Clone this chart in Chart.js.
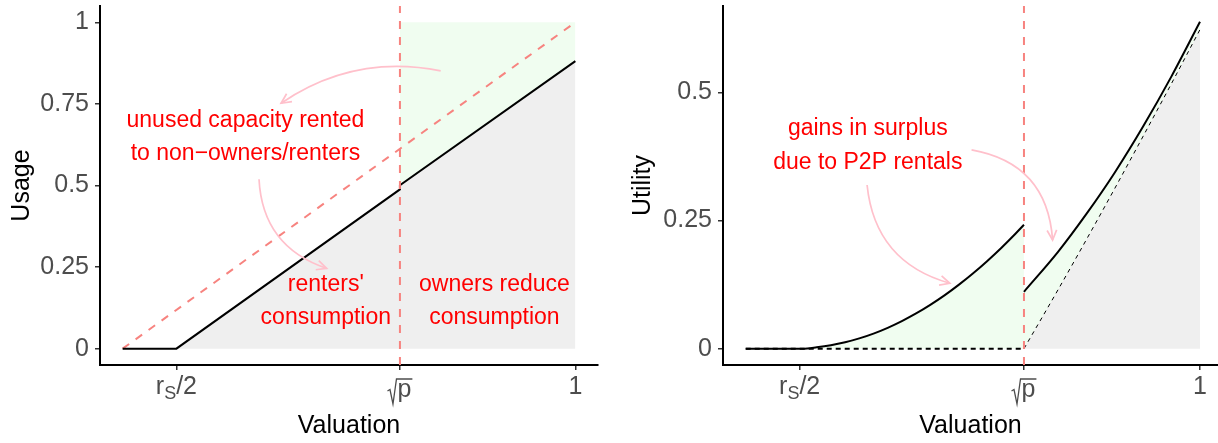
<!DOCTYPE html>
<html>
<head>
<meta charset="utf-8">
<script src="https://cdn.jsdelivr.net/npm/chart.js@4.4.1/dist/chart.umd.min.js"></script>
<style>
    html, body { margin: 0; padding: 0; background: #fff; }
    #panel { position: relative; width: 1218px; height: 443px; overflow: hidden; }
    canvas { position: absolute; top: 0; }
    #graficoUso { left: 0; }
    #graficoUtilidad { left: 612px; }
</style>
</head>
<body>
<div id="panel">
    <canvas id="graficoUso" width="612" height="443"></canvas>
    <canvas id="graficoUtilidad" width="606" height="443"></canvas>
</div>
<script>
// ---- Datos ----
const RS_MEDIO = 0.295;   // r_S/2
const RAIZ_P = 0.69;      // sqrt(p)

const ticksValoracion = [RS_MEDIO, RAIZ_P, 1];
const ticksUso = [0, 0.25, 0.5, 0.75, 1];
const ticksUtilidad = [0, 0.25, 0.5];

// panel izquierdo: uso segun valoracion
const usoX = [0.2, 0.295, 0.69, 0.69, 1];
const usoY = [0, 0, 0.488, 0.501, 0.881];
const capacidadX = [0.2, 1];
const capacidadY = [0, 1];

// panel derecho: utilidad segun valoracion
const utilIzqX = [0.2, 0.25, 0.3, 0.325, 0.35, 0.375, 0.4, 0.425, 0.45, 0.475, 0.5,
                  0.525, 0.55, 0.575, 0.6, 0.625, 0.65, 0.675, 0.69];
const utilIzqY = [0, 0, 0, 0.0026, 0.0066, 0.0124, 0.020, 0.0294, 0.0407, 0.0538, 0.0687,
                  0.0855, 0.104, 0.1245, 0.1467, 0.1708, 0.1966, 0.2243, 0.2418];
const utilDerX = [0.69, 0.75, 0.8, 0.85, 0.9, 0.95, 1];
const utilDerY = [0.111, 0.189, 0.263, 0.344, 0.434, 0.532, 0.638];
const sinP2PY = [0, 0.115, 0.213, 0.313, 0.415, 0.518, 0.623];
const baseX = [0.2, 0.69];
const baseY = [0, 0];

// ---- Estilos ----
const FUENTE = '"Liberation Sans", Arial, Helvetica, sans-serif';
const VERDE = '#F0FDF0';
const GRIS = '#EFEFEF';
const ROJO_LINEA = '#F7837F';
const ROSA = '#FFC0CB';
const TEXTO_EJE = '#4D4D4D';

Chart.defaults.font.family = FUENTE;

// textos y flechas anotadas (en coordenadas de datos)
const notasUso = [
    ['unused capacity rented', 0.417, 0.698],
    ['to non\u2212owners/renters', 0.417, 0.598],
    ["renters'", 0.559, 0.195],
    ['consumption', 0.559, 0.094],
    ['owners reduce', 0.857, 0.195],
    ['consumption', 0.857, 0.094]
];
const flechasUso = [
    { x0: 0.762, y0: 0.851, x1: 0.480, y1: 0.752, curva: 0.21 },
    { x0: 0.441, y0: 0.519, x1: 0.5605, y1: 0.246, curva: 0.34 }
];
const notasUtilidad = [
    ['gains in surplus', 0.415, 0.43],
    ['due to P2P rentals', 0.415, 0.3625]
];
const flechasUtilidad = [
    { x0: 0.4137, y0: 0.3195, x1: 0.5595, y1: 0.1277, curva: 0.34 },
    { x0: 0.5977, y0: 0.388, x1: 0.7404, y1: 0.212, curva: -0.39 }
];

function puntos(xs, ys) {
    return xs.map((x, i) => ({ x: x, y: ys[i] }));
}

function ejeX(max) {
    return {
        type: 'linear',
        min: 0.16,
        max: max,
        afterBuildTicks: s => { s.ticks = ticksValoracion.map(v => ({ value: v })); },
        afterFit: s => {
            s.height = 78;
            s.paddingLeft = 0; s.paddingRight = 0; s.paddingTop = 0; s.paddingBottom = 0;
        },
        grid: { display: true, drawOnChartArea: false, drawTicks: true, tickLength: 5, color: '#333', lineWidth: 1.5 },
        border: { display: true, color: '#000', width: 2 },
        ticks: { display: false },
        title: { display: true, text: 'Valuation', color: '#000', font: { size: 25 }, padding: { top: 0, bottom: 2 } }
    };
}

function ejeY(min, max, valores, titulo, ancho, margenTitulo) {
    return {
        type: 'linear',
        min: min,
        max: max,
        afterBuildTicks: s => { s.ticks = valores.map(v => ({ value: v })); },
        afterFit: s => {
            s.width = ancho;
            s.paddingLeft = 0; s.paddingRight = 0; s.paddingTop = 0; s.paddingBottom = 0;
        },
        grid: { display: true, drawOnChartArea: false, drawTicks: true, tickLength: 5, color: '#333', lineWidth: 1.5 },
        border: { display: true, color: '#000', width: 2 },
        ticks: { color: TEXTO_EJE, font: { size: 25 }, padding: 6, callback: v => String(v) },
        title: { display: true, text: titulo, color: '#000', font: { size: 25 }, padding: { top: margenTitulo, bottom: 0 } }
    };
}

// etiquetas del eje x con subindice y raiz
function etiquetasValoracion(chart) {
    const ctx = chart.ctx;
    const xs = chart.scales.x;
    const base = 394;
    ctx.save();
    ctx.fillStyle = TEXTO_EJE;
    ctx.strokeStyle = TEXTO_EJE;
    ctx.textBaseline = 'alphabetic';
    ctx.textAlign = 'left';

    // r_S/2
    let px = xs.getPixelForValue(RS_MEDIO);
    ctx.font = '25px ' + FUENTE;
    const wr = ctx.measureText('r').width;
    const wb = ctx.measureText('/2').width;
    ctx.font = '18px ' + FUENTE;
    const ws = ctx.measureText('S').width;
    let x0 = px - (wr + ws + wb) / 2;
    ctx.font = '25px ' + FUENTE;
    ctx.fillText('r', x0, base);
    ctx.font = '18px ' + FUENTE;
    ctx.fillText('S', x0 + wr, base + 5);
    ctx.font = '25px ' + FUENTE;
    ctx.fillText('/2', x0 + wr + ws, base);

    // raiz de p
    px = xs.getPixelForValue(RAIZ_P);
    const wp = ctx.measureText('p').width;
    const wRad = 10;
    x0 = px - (wRad + wp + 1) / 2;
    const bp = base + 3;
    ctx.fillText('p', x0 + wRad, bp);
    ctx.lineWidth = 1.3;
    ctx.beginPath();
    ctx.moveTo(x0, bp - 6);
    ctx.lineTo(x0 + 2.5, bp - 7.5);
    ctx.lineTo(x0 + 5.5, bp + 7);
    ctx.lineTo(x0 + wRad - 1, bp - 18);
    ctx.lineTo(x0 + wRad + wp + 1, bp - 18);
    ctx.stroke();

    // 1
    ctx.textAlign = 'center';
    ctx.fillText('1', xs.getPixelForValue(1), base);
    ctx.restore();
}

function anotaciones(chart, notas, flechas) {
    const ctx = chart.ctx;
    const xs = chart.scales.x, ys = chart.scales.y;
    ctx.save();
    // flechas curvas
    ctx.strokeStyle = ROSA;
    ctx.lineWidth = 1.7;
    flechas.forEach(f => {
        const ax = xs.getPixelForValue(f.x0), ay = ys.getPixelForValue(f.y0);
        const bx = xs.getPixelForValue(f.x1), by = ys.getPixelForValue(f.y1);
        const dx = bx - ax, dy = by - ay;
        const cx = (ax + bx) / 2 - f.curva * dy;
        const cy = (ay + by) / 2 + f.curva * dx;
        ctx.beginPath();
        ctx.moveTo(ax, ay);
        ctx.quadraticCurveTo(cx, cy, bx, by);
        ctx.stroke();
        const ang = Math.atan2(by - cy, bx - cx);
        const largo = 11;
        ctx.beginPath();
        ctx.moveTo(bx - largo * Math.cos(ang - 0.45), by - largo * Math.sin(ang - 0.45));
        ctx.lineTo(bx, by);
        ctx.lineTo(bx - largo * Math.cos(ang + 0.45), by - largo * Math.sin(ang + 0.45));
        ctx.stroke();
    });
    // textos
    ctx.fillStyle = '#FF0000';
    ctx.font = '23px ' + FUENTE;
    ctx.textAlign = 'center';
    ctx.textBaseline = 'middle';
    notas.forEach(n => {
        ctx.fillText(n[0], xs.getPixelForValue(n[1]), ys.getPixelForValue(n[2]));
    });
    ctx.restore();
}

function opcionesBase(padding, escalas) {
    return {
        responsive: false,
        animation: false,
        devicePixelRatio: 1,
        layout: { padding: padding, autoPadding: false },
        plugins: {
            legend: { display: false },
            tooltip: { enabled: false },
            filler: { drawTime: 'beforeDatasetsDraw' }   // rellenos siempre debajo de las lineas
        },
        elements: { point: { radius: 0 } },
        scales: escalas
    };
}

function pluginDibujo(notas, flechas) {
    return {
        id: 'extras',
        afterDraw: chart => {
            etiquetasValoracion(chart);
            anotaciones(chart, notas, flechas);
        }
    };
}

// ---- Grafico 1: Uso ----
new Chart(document.getElementById('graficoUso'), {
    type: 'line',
    data: {
        datasets: [
            {   // linea vertical en sqrt(p)
                data: puntos([RAIZ_P, RAIZ_P], [-0.05, 1.05]),
                borderColor: ROJO_LINEA, borderWidth: 2, borderDash: [8, 8], order: 0
            },
            {   // consumo real
                data: puntos(usoX, usoY),
                borderColor: '#000', borderWidth: 2, fill: 'origin', backgroundColor: GRIS, order: 1
            },
            {   // capacidad total
                data: puntos(capacidadX, capacidadY),
                borderColor: ROJO_LINEA, borderWidth: 2, borderDash: [8, 8], order: 2
            },
            {   // capacidad no usada por los propietarios
                data: puntos(usoX.slice(3), usoY.slice(3)),
                borderWidth: 0, borderColor: 'rgba(0,0,0,0)', fill: { value: 1 }, backgroundColor: VERDE, order: 3
            }
        ]
    },
    options: opcionesBase({ left: 0, top: 6, right: 14, bottom: 0 }, {
        x: ejeX(1.04),
        y: ejeY(-0.05, 1.05, ticksUso, 'Usage', 100, 7)
    }),
    plugins: [pluginDibujo(notasUso, flechasUso)]
});

// ---- Grafico 2: Utilidad ----
new Chart(document.getElementById('graficoUtilidad'), {
    type: 'line',
    data: {
        datasets: [
            {   // linea vertical en sqrt(p)
                data: puntos([RAIZ_P, RAIZ_P], [-0.0319, 0.6689]),
                borderColor: ROJO_LINEA, borderWidth: 2, borderDash: [8, 8], order: 0
            },
            {   // utilidad con P2P (tramo izquierdo)
                data: puntos(utilIzqX, utilIzqY),
                borderColor: '#000', borderWidth: 2, cubicInterpolationMode: 'monotone',
                fill: 'origin', backgroundColor: VERDE, order: 2
            },
            {   // utilidad con P2P (tramo derecho)
                data: puntos(utilDerX, utilDerY),
                borderColor: '#000', borderWidth: 2, cubicInterpolationMode: 'monotone',
                fill: 3, backgroundColor: VERDE, order: 3
            },
            {   // utilidad sin P2P (tramo derecho)
                data: puntos(utilDerX, sinP2PY),
                borderColor: '#000', borderWidth: 1, borderDash: [4, 4], cubicInterpolationMode: 'monotone',
                fill: 'origin', backgroundColor: GRIS, order: 4
            },
            {   // utilidad sin P2P (cero)
                data: puntos(baseX, baseY),
                borderColor: '#000', borderWidth: 2, borderDash: [5, 4], order: 5
            }
        ]
    },
    options: opcionesBase({ left: 0, top: 6, right: 0, bottom: 0 }, {
        x: ejeX(1.0317),
        y: ejeY(-0.0319, 0.6689, ticksUtilidad, 'Utility', 111, 16)
    }),
    plugins: [pluginDibujo(notasUtilidad, flechasUtilidad)]
});
</script>
</body>
</html>
